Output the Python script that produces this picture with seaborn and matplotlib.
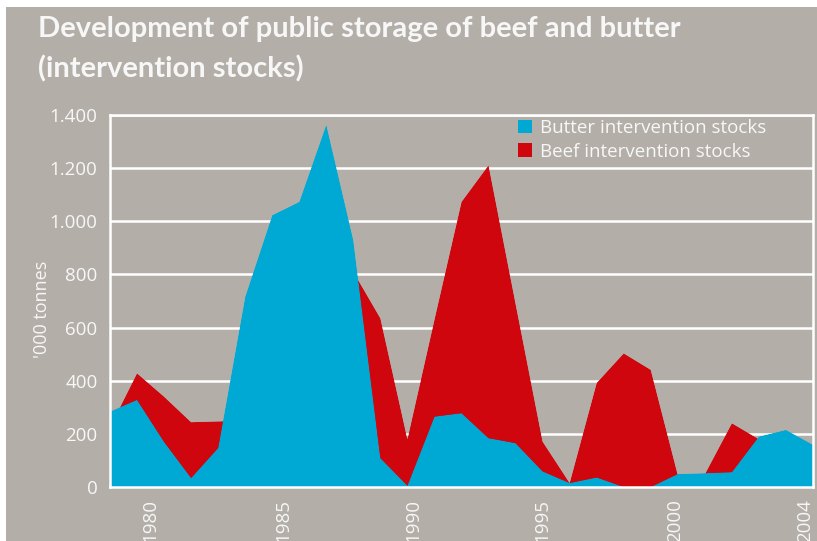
import matplotlib
matplotlib.use("Agg")
import matplotlib.pyplot as plt
from matplotlib.patches import Patch, Rectangle
from matplotlib.ticker import FuncFormatter
import pandas as pd
import seaborn as sns
import seaborn.objects as so

# Intervention stocks, '000 tonnes, one value per year
years = list(range(1978, 2005))
butter = [284, 328, 170, 34, 147, 716, 1023, 1073, 1364, 929, 109, 5, 265, 278,
          184, 165, 59, 15, 36, 0, 0, 49, 52, 56, 190, 215, 159]
beef = [225, 428, 340, 244, 247, 250, 600, 550, 700, 810, 635, 180, 630, 1073,
        1211, 690, 171, 15, 392, 503, 441, 45, 48, 240, 180, 120, 60]

tick_labels = ["1980", "1985", "1990", "1995", "2000", "2004"]
tick_pos = [1979.5, 1984.4, 1989.2, 1994.0, 1998.9, 2003.7]
series_names = ["Butter intervention stocks", "Beef intervention stocks"]

BG = "#B3AFA8"
BLUE = "#00A9D4"
RED = "#D0060E"
TXT = "#F7F7F7"

sns.set_theme(style="white")
plt.rcParams["font.family"] = ["Open Sans", "DejaVu Sans"]

df = pd.DataFrame({"year": years, "butter": butter, "beef": beef})

fig = plt.figure(figsize=(8.17, 5.41), dpi=100, facecolor="white")
fig.patches.append(Rectangle((6 / 817, 0), 1, 1 - 7 / 541, transform=fig.transFigure,
                             facecolor=BG, edgecolor="none", zorder=-10))
ax = fig.add_axes([110 / 817, 54 / 541, 703 / 817, 372 / 541])

(
    so.Plot(df, x="year")
    .add(so.Area(color=RED, alpha=1, edgewidth=0), y="beef")
    .add(so.Area(color=BLUE, alpha=1, edgewidth=0), y="butter")
    .on(ax)
    .plot()
)

ax.set_facecolor(BG)
ax.set_xlim(years[0], years[-1])
ax.set_ylim(0, 1400)
ax.set_yticks(range(0, 1401, 200))
ax.yaxis.set_major_formatter(FuncFormatter(lambda v, _: f"{int(v):,}".replace(",", ".")))
ax.set_xticks(tick_pos)
ax.set_xticklabels(tick_labels, rotation=90)
ax.tick_params(axis="both", length=0, colors=TXT, labelsize=13.5)
ax.tick_params(axis="y", pad=9)
ax.tick_params(axis="x", pad=9)
ax.grid(False)
ax.yaxis.grid(True, color="white", linewidth=1.8)
ax.set_axisbelow(True)
for art in ax.collections:
    art.set_zorder(2)
for sp in ax.spines.values():
    sp.set_visible(True)
    sp.set_color("white")
    sp.set_linewidth(1.8)
    sp.set_zorder(1)
ax.set_xlabel("")
ax.set_ylabel("'000 tonnes", color=TXT, fontsize=13)
ax.yaxis.set_label_coords(-0.084, 0.478)

handles = [Patch(facecolor=BLUE, edgecolor="none"), Patch(facecolor=RED, edgecolor="none")]
leg = ax.legend(handles, series_names, loc="upper left",
                bbox_to_anchor=(518 / 817, 1 - 119 / 541), bbox_transform=fig.transFigure,
                frameon=False, fontsize=13.5, handlelength=0.75, handleheight=0.75,
                handletextpad=0.45, labelspacing=0.3, borderaxespad=0, borderpad=0)
for t in leg.get_texts():
    t.set_color(TXT)

fig.text(38 / 817, 1 - 16 / 541,
         "Development of public storage of beef and butter\n(intervention stocks)",
         ha="left", va="top", color=TXT, fontsize=21, fontweight="bold",
         family=["Lato", "DejaVu Sans"], linespacing=1.6)

fig.savefig("out.png", dpi=100, facecolor="white")
